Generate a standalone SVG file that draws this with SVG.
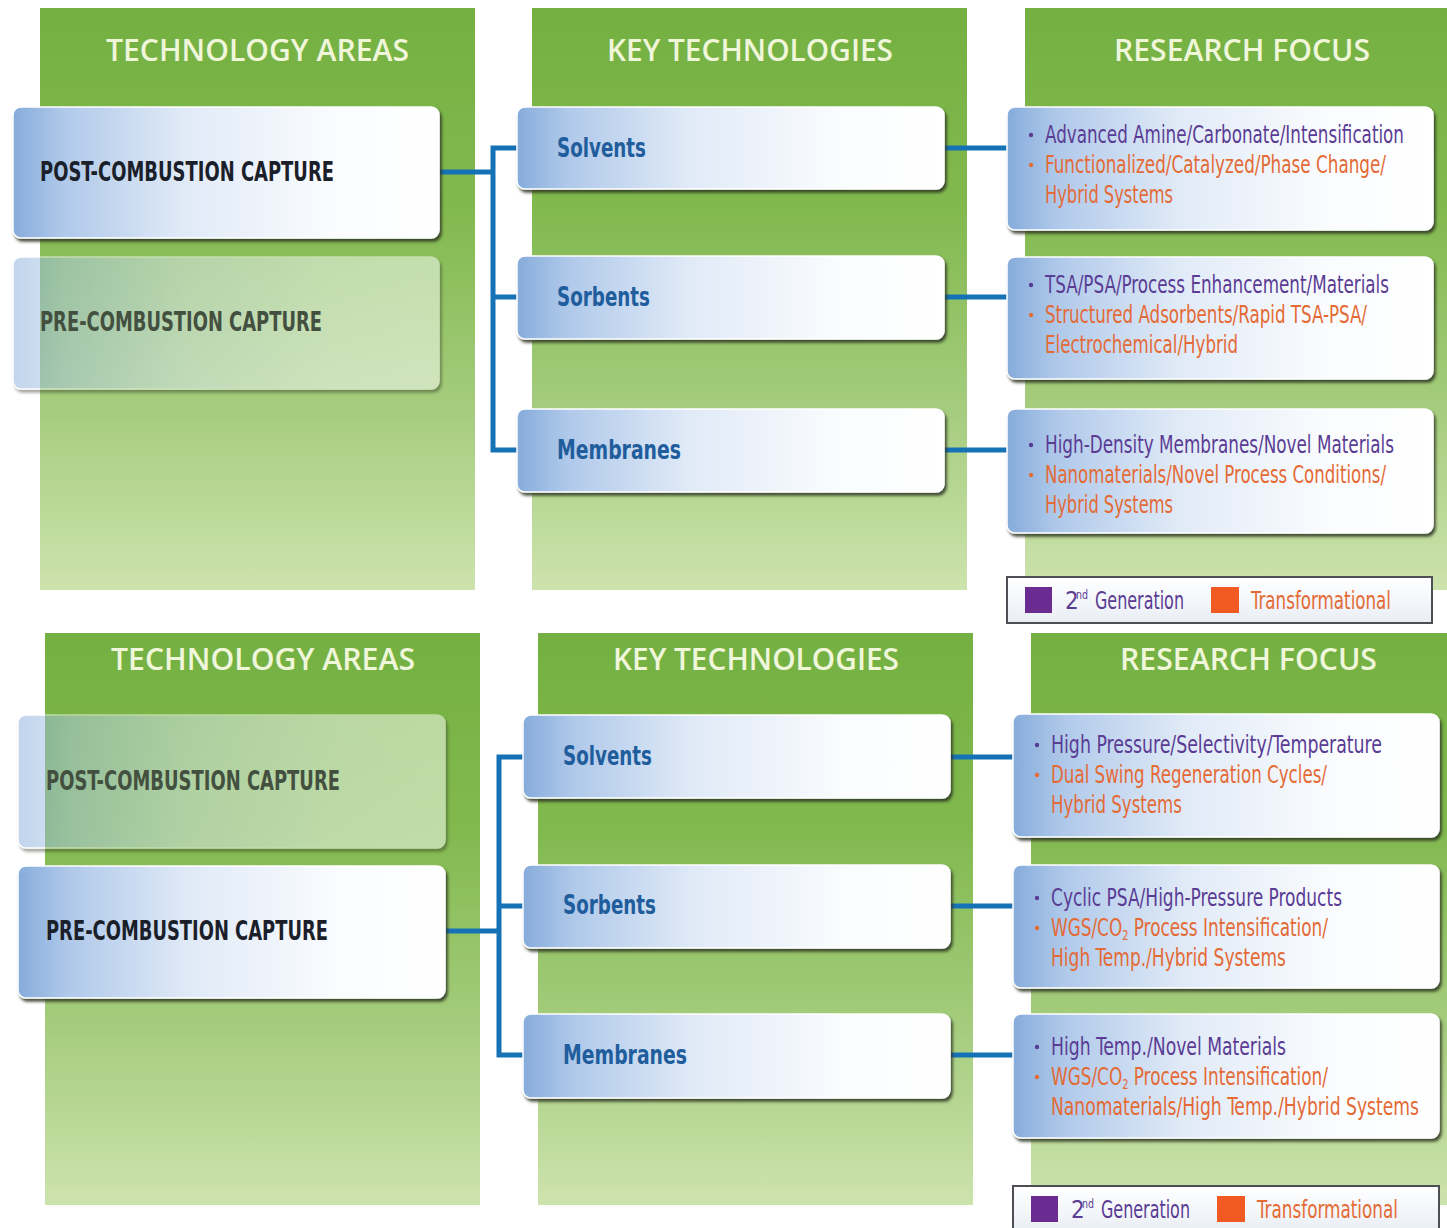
<svg xmlns="http://www.w3.org/2000/svg" width="1447" height="1228" viewBox="0 0 1447 1228">
  <defs>
    <linearGradient id="col" x1="0" y1="0" x2="0" y2="1">
      <stop offset="0" stop-color="#74b041"/>
      <stop offset="0.35" stop-color="#82b94f"/>
      <stop offset="0.7" stop-color="#a6cd7f"/>
      <stop offset="1" stop-color="#cde3ae"/>
    </linearGradient>
    <linearGradient id="box" x1="0" y1="0" x2="1" y2="0">
      <stop offset="0" stop-color="#86acdb"/>
      <stop offset="0.12" stop-color="#b0c9ea"/>
      <stop offset="0.4" stop-color="#e0eaf7"/>
      <stop offset="0.75" stop-color="#fafcfe"/>
      <stop offset="1" stop-color="#ffffff"/>
    </linearGradient>
    <linearGradient id="legendFill" x1="0" y1="0" x2="0" y2="1">
      <stop offset="0" stop-color="#ffffff"/>
      <stop offset="1" stop-color="#e9eef5"/>
    </linearGradient>
    <filter id="shadow" x="-5%" y="-10%" width="112%" height="130%">
      <feDropShadow dx="2" dy="3" stdDeviation="1.4" flood-color="#2a3324" flood-opacity="0.85"/>
    </filter>
  </defs>
  <style>
    .col { fill: url(#col); }
    .head { font-family: "Open Sans", "Liberation Sans", sans-serif; font-weight: 600; font-size: 30px; fill: #eff6da; }
    .box { fill: url(#box); stroke: #ffffff; stroke-width: 1.5; filter: url(#shadow); }
    .faded { opacity: 0.5; }
    .area { font-family: "Liberation Sans Narrow", "DejaVu Sans Condensed", "Liberation Sans", sans-serif; font-weight: bold; font-size: 26px; fill: #1b1f2a; }
    .area-dim { font-family: "Liberation Sans Narrow", "DejaVu Sans Condensed", "Liberation Sans", sans-serif; font-weight: bold; font-size: 26px; fill: #43503f; }
    .tech { font-family: "Liberation Sans Narrow", "DejaVu Sans Condensed", "Liberation Sans", sans-serif; font-weight: bold; font-size: 26px; fill: #1f5d9c; }
    .gen { font-family: "Liberation Sans Narrow", "DejaVu Sans Condensed", "Liberation Sans", sans-serif; font-size: 24px; fill: #5a3c94; }
    .trans { font-family: "Liberation Sans Narrow", "DejaVu Sans Condensed", "Liberation Sans", sans-serif; font-size: 24px; fill: #e46a36; }
    .sup { font-size: 13px; }
    .dotg { fill: #5a3c94; }
    .dott { fill: #e46a36; }
    .link { fill: none; stroke: #1672b6; stroke-width: 5; }
    .legend { fill: url(#legendFill); stroke: #4d4f55; stroke-width: 2; }
  </style>

  <!-- column backgrounds and headers -->
  <g id="columns">
    <rect class="col" x="40" y="8" width="435" height="582"/>
    <rect class="col" x="532" y="8" width="435" height="582"/>
    <rect class="col" x="1025" y="8" width="422" height="582"/>
    <rect class="col" x="45" y="633" width="435" height="572"/>
    <rect class="col" x="538" y="633" width="435" height="572"/>
    <rect class="col" x="1031" y="633" width="416" height="572"/>
    <text class="head" x="106" y="61" textLength="303" lengthAdjust="spacingAndGlyphs">TECHNOLOGY AREAS</text>
    <text class="head" x="607" y="61" textLength="286" lengthAdjust="spacingAndGlyphs">KEY TECHNOLOGIES</text>
    <text class="head" x="1114" y="61" textLength="256" lengthAdjust="spacingAndGlyphs">RESEARCH FOCUS</text>
    <text class="head" x="111" y="670" textLength="304" lengthAdjust="spacingAndGlyphs">TECHNOLOGY AREAS</text>
    <text class="head" x="613" y="670" textLength="286" lengthAdjust="spacingAndGlyphs">KEY TECHNOLOGIES</text>
    <text class="head" x="1120" y="670" textLength="257" lengthAdjust="spacingAndGlyphs">RESEARCH FOCUS</text>
  </g>

  <!-- connectors -->
  <g id="connectors">
    <path class="link" d="M438 172 H493 M517 148 H493 V450 H517 M493 297 H517"/>
    <path class="link" d="M942 148 H1009 M942 297 H1009 M942 450 H1009"/>
    <path class="link" d="M444 931 H499 M523 757 H499 V1055 H523 M499 906 H523"/>
    <path class="link" d="M948 757 H1015 M948 906 H1015 M948 1055 H1015"/>
  </g>

  <!-- upper chart: post-combustion -->
  <g id="post-area-1">
    <rect class="box" x="13" y="107" width="426" height="131" rx="8"/>
    <text class="area" x="40" y="181" textLength="294" lengthAdjust="spacingAndGlyphs">POST-COMBUSTION CAPTURE</text>
  </g>
  <g id="pre-area-1">
    <rect class="box faded" x="13" y="257" width="426" height="132" rx="8"/>
    <text class="area-dim" x="40" y="331" textLength="282" lengthAdjust="spacingAndGlyphs">PRE-COMBUSTION CAPTURE</text>
  </g>
  <g id="solvents-1">
    <rect class="box" x="517" y="107" width="427" height="82" rx="8"/>
    <text class="tech" x="557" y="157" textLength="89" lengthAdjust="spacingAndGlyphs">Solvents</text>
  </g>
  <g id="sorbents-1">
    <rect class="box" x="517" y="256" width="427" height="83" rx="8"/>
    <text class="tech" x="557" y="306" textLength="93" lengthAdjust="spacingAndGlyphs">Sorbents</text>
  </g>
  <g id="membranes-1">
    <rect class="box" x="517" y="409" width="427" height="83" rx="8"/>
    <text class="tech" x="557" y="459" textLength="124" lengthAdjust="spacingAndGlyphs">Membranes</text>
  </g>
  <g id="focus-solvents-1">
    <rect class="box" x="1007" y="107" width="426" height="123" rx="8"/>
    <circle class="dotg" cx="1031" cy="135" r="2.2"/>
    <text class="gen" x="1045" y="143" textLength="359" lengthAdjust="spacingAndGlyphs">Advanced Amine/Carbonate/Intensification</text>
    <circle class="dott" cx="1031" cy="165" r="2.2"/>
    <text class="trans" x="1045" y="173" textLength="341" lengthAdjust="spacingAndGlyphs">Functionalized/Catalyzed/Phase Change/</text>
    <text class="trans" x="1045" y="203" textLength="128" lengthAdjust="spacingAndGlyphs">Hybrid Systems</text>
  </g>
  <g id="focus-sorbents-1">
    <rect class="box" x="1007" y="257" width="426" height="122" rx="8"/>
    <circle class="dotg" cx="1031" cy="285" r="2.2"/>
    <text class="gen" x="1045" y="293" textLength="344" lengthAdjust="spacingAndGlyphs">TSA/PSA/Process Enhancement/Materials</text>
    <circle class="dott" cx="1031" cy="315" r="2.2"/>
    <text class="trans" x="1045" y="323" textLength="322" lengthAdjust="spacingAndGlyphs">Structured Adsorbents/Rapid TSA-PSA/</text>
    <text class="trans" x="1045" y="353" textLength="193" lengthAdjust="spacingAndGlyphs">Electrochemical/Hybrid</text>
  </g>
  <g id="focus-membranes-1">
    <rect class="box" x="1007" y="409" width="426" height="124" rx="8"/>
    <circle class="dotg" cx="1031" cy="445" r="2.2"/>
    <text class="gen" x="1045" y="453" textLength="349" lengthAdjust="spacingAndGlyphs">High-Density Membranes/Novel Materials</text>
    <circle class="dott" cx="1031" cy="475" r="2.2"/>
    <text class="trans" x="1045" y="483" textLength="341" lengthAdjust="spacingAndGlyphs">Nanomaterials/Novel Process Conditions/</text>
    <text class="trans" x="1045" y="513" textLength="128" lengthAdjust="spacingAndGlyphs">Hybrid Systems</text>
  </g>
  <g id="legend-1">
    <rect class="legend" x="1007" y="577" width="425" height="46"/>
    <rect x="1025" y="587" width="27" height="26" fill="#6a2c91"/>
    <text class="gen" x="1065" y="609">2</text>
    <text class="gen sup" x="1076" y="599" textLength="12" lengthAdjust="spacingAndGlyphs">nd</text>
    <text class="gen" x="1095" y="609" textLength="89" lengthAdjust="spacingAndGlyphs">Generation</text>
    <rect x="1211" y="587" width="28" height="26" fill="#f15a22"/>
    <text class="trans" x="1251" y="609" textLength="140" lengthAdjust="spacingAndGlyphs">Transformational</text>
  </g>

  <!-- lower chart: pre-combustion -->
  <g id="post-area-2">
    <rect class="box faded" x="18" y="715" width="427" height="133" rx="8"/>
    <text class="area-dim" x="46" y="790" textLength="294" lengthAdjust="spacingAndGlyphs">POST-COMBUSTION CAPTURE</text>
  </g>
  <g id="pre-area-2">
    <rect class="box" x="18" y="866" width="427" height="132" rx="8"/>
    <text class="area" x="46" y="940" textLength="282" lengthAdjust="spacingAndGlyphs">PRE-COMBUSTION CAPTURE</text>
  </g>
  <g id="solvents-2">
    <rect class="box" x="523" y="715" width="427" height="83" rx="8"/>
    <text class="tech" x="563" y="765" textLength="89" lengthAdjust="spacingAndGlyphs">Solvents</text>
  </g>
  <g id="sorbents-2">
    <rect class="box" x="523" y="865" width="427" height="83" rx="8"/>
    <text class="tech" x="563" y="914" textLength="93" lengthAdjust="spacingAndGlyphs">Sorbents</text>
  </g>
  <g id="membranes-2">
    <rect class="box" x="523" y="1014" width="427" height="84" rx="8"/>
    <text class="tech" x="563" y="1064" textLength="124" lengthAdjust="spacingAndGlyphs">Membranes</text>
  </g>
  <g id="focus-solvents-2">
    <rect class="box" x="1013" y="714" width="426" height="123" rx="8"/>
    <circle class="dotg" cx="1037" cy="745" r="2.2"/>
    <text class="gen" x="1051" y="753" textLength="331" lengthAdjust="spacingAndGlyphs">High Pressure/Selectivity/Temperature</text>
    <circle class="dott" cx="1037" cy="775" r="2.2"/>
    <text class="trans" x="1051" y="783" textLength="276" lengthAdjust="spacingAndGlyphs">Dual Swing Regeneration Cycles/</text>
    <text class="trans" x="1051" y="813" textLength="131" lengthAdjust="spacingAndGlyphs">Hybrid Systems</text>
  </g>
  <g id="focus-sorbents-2">
    <rect class="box" x="1013" y="865" width="426" height="123" rx="8"/>
    <circle class="dotg" cx="1037" cy="898" r="2.2"/>
    <text class="gen" x="1051" y="906" textLength="291" lengthAdjust="spacingAndGlyphs">Cyclic PSA/High-Pressure Products</text>
    <circle class="dott" cx="1037" cy="928" r="2.2"/>
    <text class="trans" x="1051" y="936" textLength="277" lengthAdjust="spacingAndGlyphs">WGS/CO<tspan font-size="14" dy="4">2</tspan><tspan dy="-4"> Process Intensification/</tspan></text>
    <text class="trans" x="1051" y="966" textLength="235" lengthAdjust="spacingAndGlyphs">High Temp./Hybrid Systems</text>
  </g>
  <g id="focus-membranes-2">
    <rect class="box" x="1013" y="1014" width="426" height="124" rx="8"/>
    <circle class="dotg" cx="1037" cy="1047" r="2.2"/>
    <text class="gen" x="1051" y="1055" textLength="235" lengthAdjust="spacingAndGlyphs">High Temp./Novel Materials</text>
    <circle class="dott" cx="1037" cy="1077" r="2.2"/>
    <text class="trans" x="1051" y="1085" textLength="277" lengthAdjust="spacingAndGlyphs">WGS/CO<tspan font-size="14" dy="4">2</tspan><tspan dy="-4"> Process Intensification/</tspan></text>
    <text class="trans" x="1051" y="1115" textLength="368" lengthAdjust="spacingAndGlyphs">Nanomaterials/High Temp./Hybrid Systems</text>
  </g>
  <g id="legend-2">
    <rect class="legend" x="1013" y="1186" width="426" height="46"/>
    <rect x="1031" y="1196" width="27" height="26" fill="#6a2c91"/>
    <text class="gen" x="1071" y="1218">2</text>
    <text class="gen sup" x="1082" y="1208" textLength="12" lengthAdjust="spacingAndGlyphs">nd</text>
    <text class="gen" x="1101" y="1218" textLength="89" lengthAdjust="spacingAndGlyphs">Generation</text>
    <rect x="1217" y="1196" width="28" height="26" fill="#f15a22"/>
    <text class="trans" x="1257" y="1218" textLength="141" lengthAdjust="spacingAndGlyphs">Transformational</text>
  </g>
</svg>
